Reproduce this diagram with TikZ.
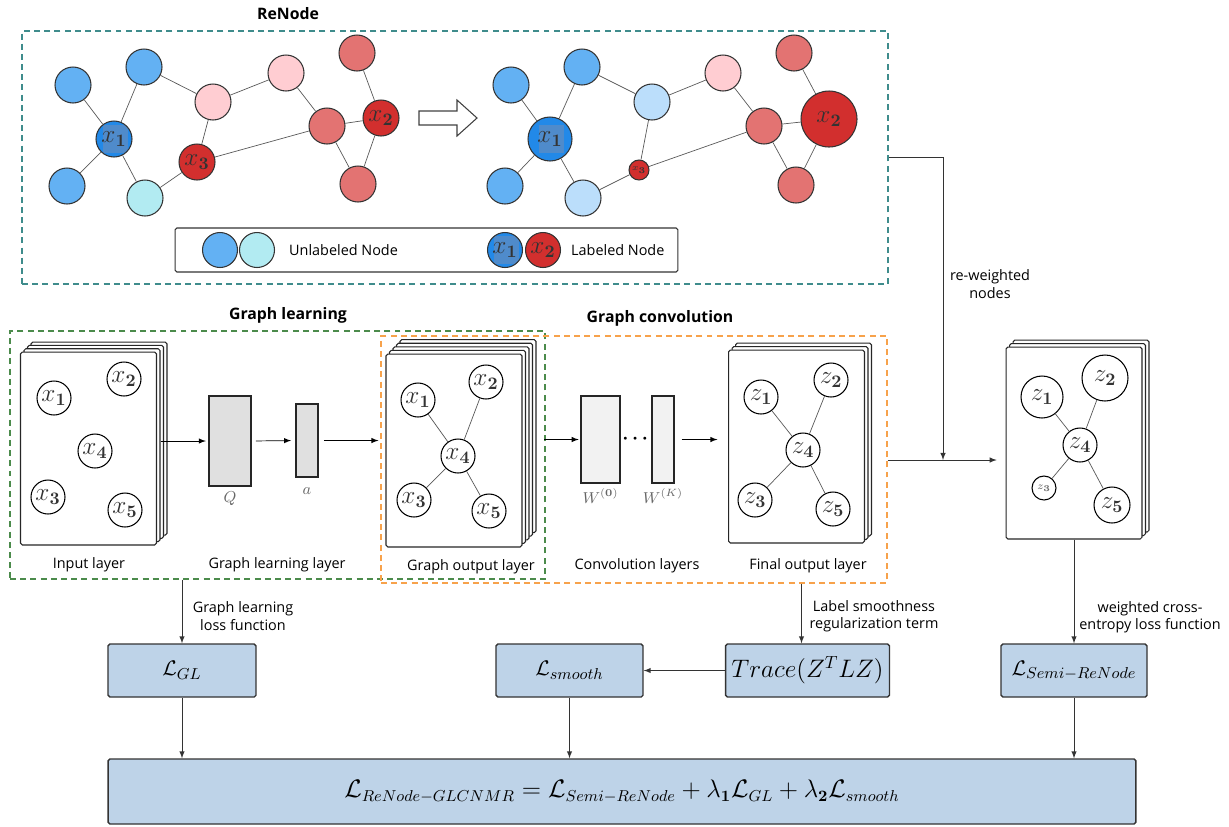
\documentclass[tikz,border=0pt]{standalone}
\usepackage{amsmath}
\usepackage{amssymb}
\usepackage[no-math]{fontspec}
\newfontfamily\labfont{Open Sans}
\usetikzlibrary{arrows}
\usetikzlibrary{calc}
\usetikzlibrary{positioning}

\definecolor{ublue}{HTML}{63B1F3}
\definecolor{dblue}{HTML}{2289E8}
\definecolor{sqblue}{HTML}{4F8BCB}
\definecolor{ucyan}{HTML}{B2EBF2}
\definecolor{lblue}{HTML}{BBDEFB}
\definecolor{upink}{HTML}{FFCDD2}
\definecolor{mred}{HTML}{E37372}
\definecolor{dred}{HTML}{D22F2E}
\definecolor{lossblue}{HTML}{BED3E8}
\definecolor{tealdash}{HTML}{3F8C8C}
\definecolor{greendash}{HTML}{4B8B4B}
\definecolor{orangedash}{HTML}{F7A24B}

\tikzset{
  gnode/.style={circle, draw=black!80, line width=0.6pt, inner sep=0pt, minimum size=0.72cm,
    text=black!80, font=\fontsize{14}{14}\selectfont},
  labnode/.style={gnode, fill=dblue, path picture={\fill[sqblue]
    ($(path picture bounding box.center)+(-0.22cm,-0.28cm)$) rectangle +(0.5cm,0.56cm);}},
  xnode/.style={gnode, fill=white, draw=black, minimum size=0.68cm},
  gedge/.style={draw=black!65, line width=0.4pt},
  page/.style={draw=black!85, fill=white, rounded corners=1pt, line width=0.6pt,
    minimum width=2.72cm, minimum height=3.86cm},
  layerbox/.style={draw=black!85, line width=0.6pt},
  wlab/.style={text=black!60, font=\fontsize{9}{9}\selectfont, inner sep=0pt},
  lossbox/.style={draw=black!80, fill=lossblue, line width=0.8pt, rounded corners=1pt,
    minimum height=1.06cm, font=\fontsize{13}{13}\selectfont},
  caption/.style={font=\labfont\fontsize{8.2}{9.8}\selectfont, align=center},
  title/.style={font=\labfont\bfseries\fontsize{9}{11}\selectfont},
  dashbox/.style={dash pattern=on 3.4pt off 2.4pt, line width=0.7pt},
}

\begin{document}
\begin{tikzpicture}[x=0.02cm, y=-0.02cm, >=latex]
  \useasboundingbox (0,0) rectangle (1229,826);

  \node[title] (tren) at (288,14) {ReNode};
  \node[dashbox, draw=tealdash, minimum width=17.32cm, minimum height=5.06cm] (rn) at (455,157.5) {};

  \node[gnode, fill=ublue] (l1) at (73,85) {};
  \node[gnode, fill=ublue] (l2) at (144,67) {};
  \node[labnode] (l3) at (114,139) {$x_{\mathbf 1}$};
  \node[gnode, fill=ublue] (l4) at (67,186) {};
  \node[gnode, fill=ucyan] (l5) at (145,198) {};
  \node[gnode, fill=upink] (l6) at (213,102) {};
  \node[gnode, fill=dred] (l7) at (197,162) {$x_{\mathbf 3}$};
  \node[gnode, fill=upink] (l8) at (286,73) {};
  \node[gnode, fill=mred] (l9) at (327,126) {};
  \node[gnode, fill=mred] (l10) at (357,53) {};
  \node[gnode, fill=dred] (l11) at (381,118) {$x_{\mathbf 2}$};
  \node[gnode, fill=mred] (l12) at (358,184) {};
  \foreach \a/\b in {1/3,2/3,3/4,3/5,5/7,7/6,2/6,6/8,8/9,7/9,9/11,10/11,9/12,11/12}
    \draw[gedge] (l\a) -- (l\b);

  \coordinate (ha) at (419,118);
  \draw[line width=0.6pt, draw=black!75] (ha) ++(0,-7) -- ++(38,0) -- ++(0,-11) -- ++(20,18)
    -- ++(-20,18) -- ++(0,-11) -- ++(-38,0) -- cycle;

  \node[gnode, fill=ublue] (r1) at (511,85) {};
  \node[gnode, fill=ublue] (r2) at (582,67) {};
  \node[labnode, minimum size=0.88cm] (r3) at (550,139) {$x_{\mathbf 1}$};
  \node[gnode, fill=ublue] (r4) at (505,186) {};
  \node[gnode, fill=lblue] (r5) at (583,198) {};
  \node[gnode, fill=lblue] (r6) at (652,102) {};
  \node[gnode, fill=dred, minimum size=0.4cm, font=\fontsize{4}{4}\selectfont] (r7) at (639,170) {$x_{\mathbf 3}$};
  \node[gnode, fill=upink] (r8) at (723,73) {};
  \node[gnode, fill=mred] (r9) at (764,126) {};
  \node[gnode, fill=mred] (r10) at (794,53) {};
  \node[gnode, fill=dred, minimum size=1.12cm] (r11) at (829,119) {$x_{\mathbf 2}$};
  \node[gnode, fill=mred] (r12) at (796,185) {};
  \foreach \a/\b in {1/3,2/3,3/4,3/5,5/7,7/6,2/6,6/8,8/9,7/9,9/11,10/11,9/12,11/12}
    \draw[gedge] (r\a) -- (r\b);

  \node[draw=black!80, rounded corners=1pt, line width=0.6pt, minimum width=10.06cm, minimum height=0.88cm] (leg) at (426.5,250) {};
  \node[gnode, fill=ublue, minimum size=0.7cm] (lg1) at (220,250) {};
  \node[gnode, fill=ucyan, minimum size=0.7cm] (lg2) at (257,250) {};
  \node[caption, anchor=west] (lgt1) at (283,250) {Unlabeled Node};
  \node[labnode, minimum size=0.7cm] (lg3) at (505,250) {$x_{\mathbf 1}$};
  \node[gnode, fill=dred, minimum size=0.7cm] (lg4) at (543,250) {$x_{\mathbf 2}$};
  \node[caption, anchor=west] (lgt2) at (565,250) {Labeled Node};

  \node[title] (tgl) at (288,315) {Graph learning};
  \node[title] (tgc) at (660,318) {Graph convolution};
  \node[dashbox, draw=greendash, minimum width=10.7cm, minimum height=4.96cm] (gl) at (277.5,455) {};
  \node[dashbox, draw=orangedash, minimum width=10.12cm, minimum height=4.94cm] (gc) at (634,459.5) {};

  \foreach \k in {3,2,1}
    \node[page] (in\k) at (88.5+3.5*\k,448.5-3.3*\k) {};
  \node[page] (in) at (88.5,448.5) {};
  \node[xnode] (i1) at (54,398) {$x_{\mathbf 1}$};
  \node[xnode] (i2) at (124,379) {$x_{\mathbf 2}$};
  \node[xnode] (i4) at (95,451) {$x_{\mathbf 4}$};
  \node[xnode] (i3) at (48,497) {$x_{\mathbf 3}$};
  \node[xnode] (i5) at (125,510) {$x_{\mathbf 5}$};

  \node[layerbox, fill=black!12, minimum width=0.84cm, minimum height=1.8cm] (Q) at (230,441) {};
  \node[below=0.1cm of Q, wlab] (ql) {$Q$};
  \node[layerbox, fill=black!12, minimum width=0.44cm, minimum height=1.46cm] (a) at (307,440.5) {};
  \node[below=0.2cm of a, wlab] (al) {$a$};

  \foreach \k in {4,3,2,1}
    \node[page] (out\k) at (454+3.5*\k,450.5-3.6*\k) {};
  \node[page] (out) at (454,450.5) {};
  \node[xnode] (o1) at (418,400) {$x_{\mathbf 1}$};
  \node[xnode] (o2) at (486,382) {$x_{\mathbf 2}$};
  \node[xnode] (o4) at (458,456) {$x_{\mathbf 4}$};
  \node[xnode] (o3) at (414,500) {$x_{\mathbf 3}$};
  \node[xnode] (o5) at (489,511) {$x_{\mathbf 5}$};
  \foreach \k in {1,2,3,5}
    \draw[gedge] (o\k) -- (o4);

  \node[layerbox, fill=black!5, minimum width=0.78cm, minimum height=1.74cm] (w0) at (600.5,439.5) {};
  \node[below=0.1cm of w0, wlab] (w0l) {$W^{(\mathbf 0)}$};
  \node[layerbox, fill=black!5, minimum width=0.44cm, minimum height=1.74cm] (wk) at (663,439.5) {};
  \node[below=0.1cm of wk, wlab] (wkl) {$W^{(K)}$};
  \node[font=\fontsize{11}{11}\selectfont] (dots) at (637,439) {$\boldsymbol{\cdots}$};

  \foreach \k in {2,1}
    \node[page] (fin\k) at (796.5+3.5*\k,446.5-3.5*\k) {};
  \node[page] (fin) at (796.5,446.5) {};
  \node[xnode] (f1) at (761,397) {$z_{\mathbf 1}$};
  \node[xnode] (f2) at (831,380) {$z_{\mathbf 2}$};
  \node[xnode] (f4) at (803,450) {$z_{\mathbf 4}$};
  \node[xnode] (f3) at (755,500) {$z_{\mathbf 3}$};
  \node[xnode] (f5) at (833,509) {$z_{\mathbf 5}$};
  \foreach \k in {1,2,3,5}
    \draw[gedge] (f\k) -- (f4);

  \node[caption] (cin) at (89,565) {Input layer};
  \node[caption] (cgl) at (277,565) {Graph learning layer};
  \node[caption] (cout) at (471,567) {Graph output layer};
  \node[caption] (cconv) at (637,566) {Convolution layers};
  \node[caption] (cfin) at (808,566) {Final output layer};

  \path[->, shorten >=1.5pt] (in1.east |- Q.west) edge (Q.west);
  \path[->, shorten <=2.5pt, shorten >=2.5pt] (Q.east) edge (a.west);
  \path[->, shorten <=3pt, shorten >=4pt] (a.east) edge (a.east -| out.west);
  \path[->, shorten <=4.5pt, shorten >=1pt] (out4.east |- w0.west) edge (w0.west);
  \path[->, shorten <=4pt, shorten >=6pt] (wk.east) edge (wk.east -| fin.west);

  \foreach \k in {2,1}
    \node[page, minimum width=2.72cm, minimum height=3.84cm] (rs\k) at (1074+3.5*\k,443-3.5*\k) {};
  \node[page, minimum height=3.84cm] (rs) at (1074,443) {};
  \node[xnode, minimum size=0.84cm] (s1) at (1042,397) {$z_{\mathbf 1}$};
  \node[xnode, minimum size=0.92cm] (s2) at (1105,378) {$z_{\mathbf 2}$};
  \node[xnode] (s4) at (1080,445) {$z_{\mathbf 4}$};
  \node[xnode, minimum size=0.48cm, text=black!60, font=\fontsize{6}{6}\selectfont] (s3) at (1044,488) {$z_{\mathbf 3}$};
  \node[xnode, minimum size=0.72cm] (s5) at (1112,505) {$z_{\mathbf 5}$};
  \foreach \k in {1,2,3,5}
    \draw[gedge] (s\k) -- (s4);

  \coordinate (jn) at (943,460);
  \draw[->, black!80] (rn.east) -| (jn);
  \draw[->, black!80, shorten >=5pt] (gc.east |- jn) -- (rs.west |- jn);
  \node[caption] (crw) at (990,284) {re-weighted\\nodes};

  \node[lossbox, minimum width=2.96cm] (lgl) at (182,670.5) {$\mathcal{L}_{GL}$};
  \node[lossbox, minimum width=2.94cm] (lsm) at (569.5,670.5) {$\mathcal{L}_{smooth}$};
  \node[lossbox, minimum width=3.14cm, font=\fontsize{14.6}{15}\selectfont] (tr) at (807.5,670.5) {$Trace(Z^TLZ)$};
  \node[lossbox, minimum width=2.92cm] (lsr) at (1074,670.5) {$\mathcal{L}_{Semi-ReNode}$};
  \node[lossbox, minimum width=20.56cm, minimum height=1.3cm, font=\fontsize{13.4}{14}\selectfont] (tot) at (622,791.5)
    {$\mathcal{L}_{ReNode-GLCNMR}=\mathcal{L}_{Semi-ReNode}+\lambda_{\mathbf 1}\mathcal{L}_{GL}+\lambda_{\mathbf 2}\mathcal{L}_{smooth}$};

  \path[->, black!80] (gl.south -| lgl.north) edge (lgl.north);
  \path[->, black!80] ($(gc.south -| tr.north)+(-6,0)$) edge ($(tr.north)+(-6,0)$);
  \path[->, black!80] (rs.south) edge (lsr.north);
  \path[->, black!80] (tr.west) edge (lsm.east);
  \path[->, black!80] (lgl.south) edge (tot.north -| lgl.south);
  \path[->, black!80] (lsm.south) edge (tot.north -| lsm.south);
  \path[->, black!80] (lsr.south) edge (tot.north -| lsr.south);

  \node[caption] (cgll) at (243,616) {Graph learning\\loss function};
  \node[caption] (clsm) at (874,616) {Label smoothness\\regularization term};
  \node[caption] (cwce) at (1150,617) {weighted cross-\\entropy loss function};
\end{tikzpicture}
\end{document}
